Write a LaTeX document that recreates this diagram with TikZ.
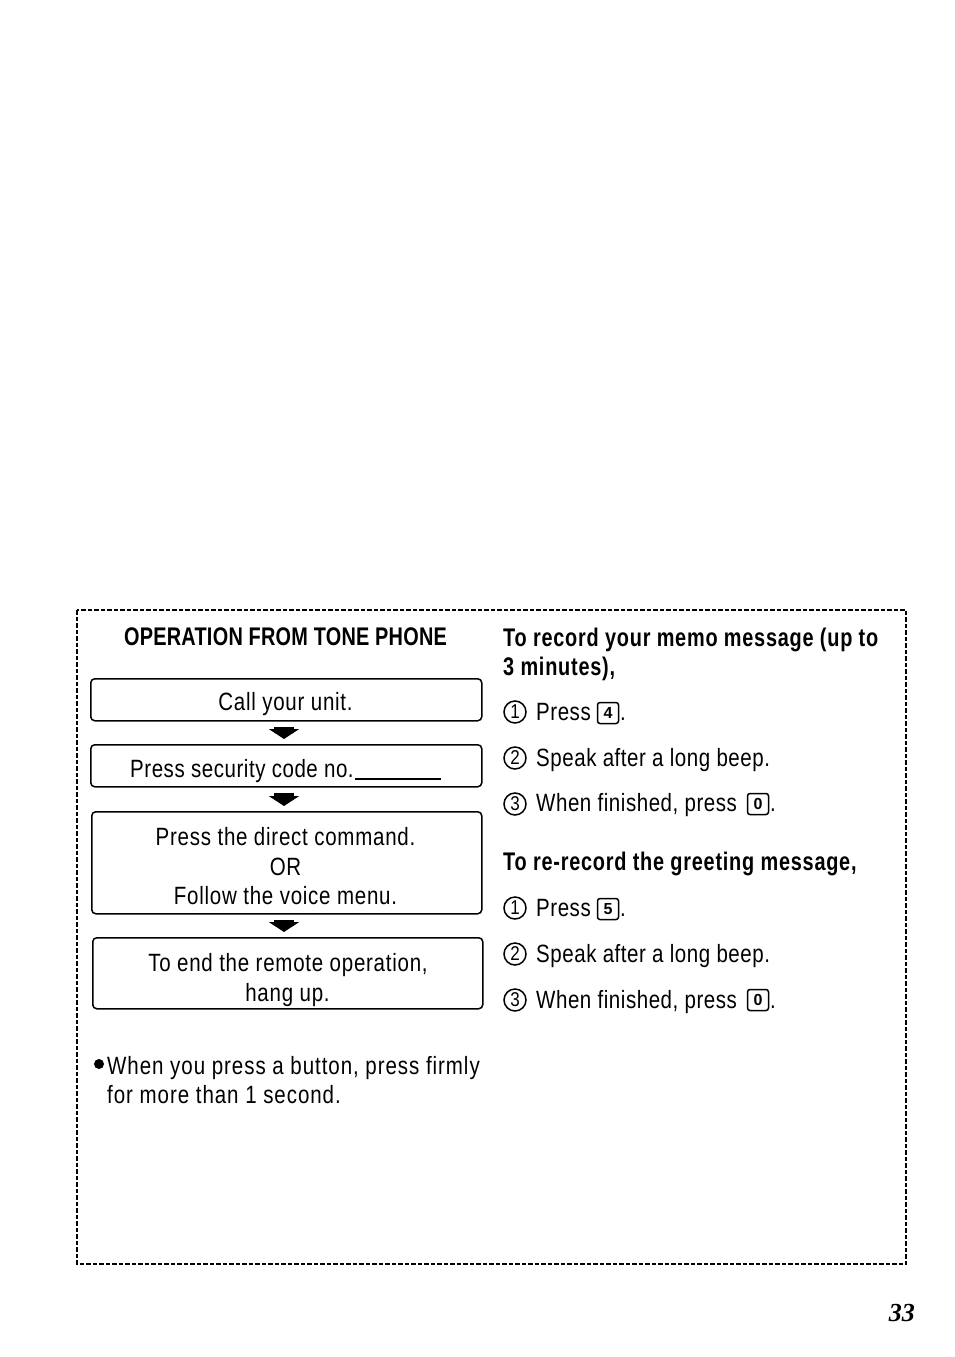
\documentclass[tikz,border=0pt]{standalone}
\usepackage{fontspec}
\usetikzlibrary{arrows.meta}
\setmainfont{Liberation Sans}
\newfontfamily\narrowfont[FakeStretch=0.82,LetterSpace=2.2]{Liberation Sans}
\newfontfamily\leftfont[FakeStretch=0.82,LetterSpace=3]{Liberation Sans}
\newfontfamily\notefont[FakeStretch=0.82,LetterSpace=3.8]{Liberation Sans}
\newfontfamily\narrowbold[FakeStretch=0.78,LetterSpace=3]{Liberation Sans Bold}
\newfontfamily\capsbold[FakeStretch=0.78,LetterSpace=1]{Liberation Sans Bold}
\newfontfamily\digitfont[FakeStretch=0.85]{Liberation Sans}
\newfontfamily\digitbold{Liberation Sans Bold}
\newfontfamily\pagefont{Liberation Serif Bold Italic}
\tikzset{
  x=1pt,y=-1pt,
  body/.style={inner sep=0pt,anchor=base west,font=\fontsize{25}{29}\selectfont\narrowfont},
  bodyc/.style={inner sep=0pt,anchor=base,font=\fontsize{25}{29}\selectfont\leftfont},
  note/.style={inner sep=0pt,anchor=base west,font=\fontsize{25}{29}\selectfont\notefont},
  head/.style={inner sep=0pt,anchor=base west,font=\fontsize{25.5}{29}\selectfont\narrowbold},
  capshead/.style={inner sep=0pt,anchor=base,font=\fontsize{25.5}{29}\selectfont\capsbold},
  stepbox/.style={draw,line width=1.5pt,rounded corners=4pt,inner sep=0pt,anchor=north west},
  flowarrow/.style={line width=20pt,shorten <=5pt,shorten >=5pt,{-{Triangle[width=30pt,length=10pt]}}},
  numc/.style={draw,circle,line width=1.5pt,minimum size=22pt,inner sep=0pt,font=\fontsize{20}{20}\selectfont\digitfont},
  keycap/.style={draw,line width=1.5pt,rounded corners=2.5pt,minimum width=21pt,minimum height=21pt,inner sep=0pt,font=\fontsize{16}{16}\selectfont\digitbold},
}
\begin{document}
\begin{tikzpicture}
\useasboundingbox (0,0) rectangle (954,1357);
\fill[white] (0,0) rectangle (954,1357);
\draw[line width=1.1pt,dash pattern=on 4.5pt off 2pt] (77,610) rectangle (906,1264);

\node[capshead] (title) at (285.5,645) {OPERATION FROM TONE PHONE};

\node[stepbox,minimum width=391pt,minimum height=42pt] (b1) at (90,678) {};
\node[stepbox,minimum width=391pt,minimum height=42pt] (b2) at (90,744) {};
\node[stepbox,minimum width=390pt,minimum height=102pt] (b3) at (91,811) {};
\node[stepbox,minimum width=390pt,minimum height=71pt] (b4) at (92,937) {};
\draw[flowarrow] (b1.south -| 284,0) -- (b2.north -| 284,0);
\draw[flowarrow] (b2.south -| 284,0) -- (b3.north -| 284,0);
\draw[flowarrow] (b3.south -| 284,0) -- (b4.north -| 284,0);

\node[bodyc] (t1) at (285.5,710) {Call your unit.};
\node[body] (t2) at (130,777) {Press security code no.};
\draw[line width=1.5pt] (t2.base east) ++(1,2) coordinate (ua) -- ++(86,0) coordinate (ub);
\node[bodyc] (t3) at (285.5,845) {Press the direct command.};
\node[bodyc] (t4) at (285.5,875) {OR};
\node[bodyc] (t5) at (285.5,904) {Follow the voice menu.};
\node[bodyc] (t6) at (288,971) {To end the remote operation,};
\node[bodyc] (t7) at (287.5,1001) {hang up.};

\fill (99,1064) circle (5pt);
\node[note] (n1) at (107,1074) {When you press a button, press firmly};
\node[note] (n2) at (107,1103) {for more than 1 second.};

\node[head] (h1) at (503,646) {To record your memo message (up to};
\node[head] (h2) at (503,675) {3 minutes),};

\node[numc] (c1) at (515,712) {1};
\node[body] (s1) at (536,720) {Press};
\node[keycap] (k1) at (608,713) {4};
\node[body] (p1) at (620,720) {.};
\node[numc] (c2) at (515,758) {2};
\node[body] (s2) at (536,766) {Speak after a long beep.};
\node[numc] (c3) at (515,804) {3};
\node[body] (s3) at (536,811) {When finished, press};
\node[keycap] (k2) at (758,804) {0};
\node[body] (p3) at (770,811) {.};

\node[head] (h3) at (503,870) {To re-record the greeting message,};

\node[numc] (c4) at (515,908) {1};
\node[body] (s4) at (536,916) {Press};
\node[keycap] (k3) at (608,909) {5};
\node[body] (p4) at (620,916) {.};
\node[numc] (c5) at (515,954) {2};
\node[body] (s5) at (536,962) {Speak after a long beep.};
\node[numc] (c6) at (515,1000) {3};
\node[body] (s6) at (536,1008) {When finished, press};
\node[keycap] (k4) at (758,1000) {0};
\node[body] (p6) at (770,1008) {.};

\node[inner sep=0pt,anchor=base east,font=\fontsize{26}{26}\selectfont\pagefont] (pg) at (915,1321) {33};
\end{tikzpicture}
\end{document}
